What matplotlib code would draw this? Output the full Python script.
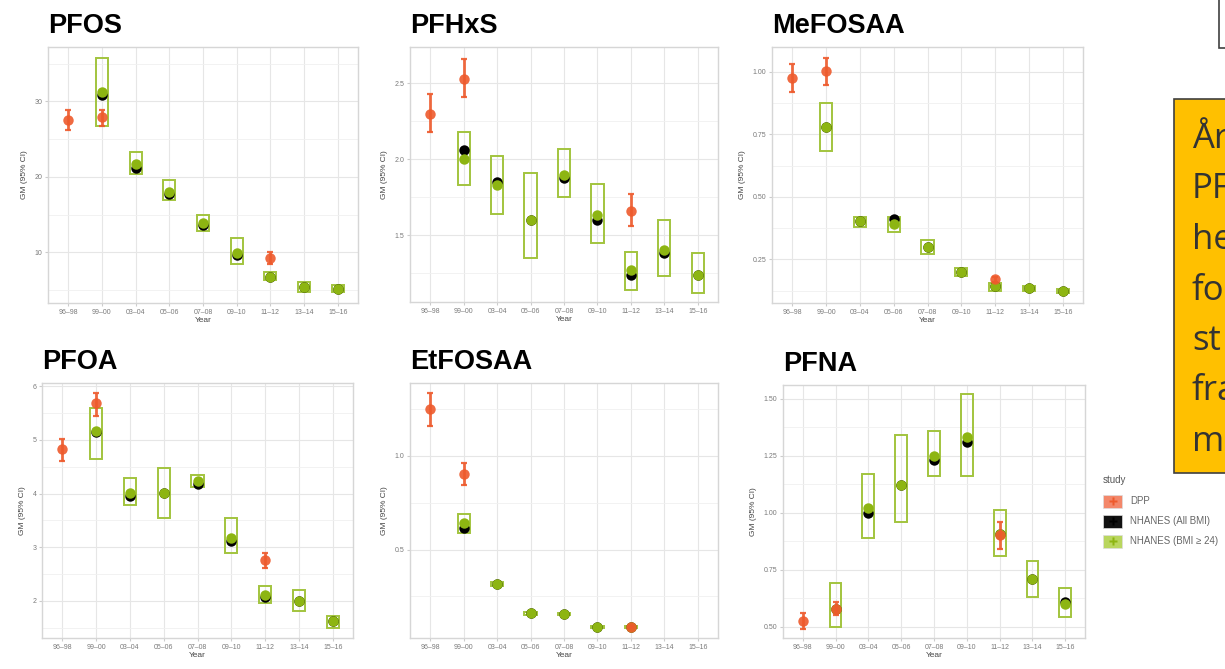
import numpy as np
import matplotlib.pyplot as plt
from matplotlib.ticker import AutoMinorLocator
from matplotlib.patches import Rectangle

plt.rcParams['font.family'] = ['Liberation Sans', 'DejaVu Sans']

nan = np.nan
years = ['96–98', '99–00', '03–04', '05–06', '07–08', '09–10', '11–12', '13–14', '15–16']

# PFOS
pfos_dpp = [27.5, 27.9, nan, nan, nan, nan, 9.3, nan, nan]
pfos_dpp_lo = [26.2, 26.7, nan, nan, nan, nan, 8.5, nan, nan]
pfos_dpp_hi = [28.8, 28.8, nan, nan, nan, nan, 10.0, nan, nan]
pfos_all = [nan, 30.9, 21.2, 17.8, 13.6, 9.7, 6.7, 5.4, 5.1]
pfos_bmi = [nan, 31.2, 21.7, 18.0, 13.9, 9.9, 6.8, 5.4, 5.1]
pfos_bmi_lo = [nan, 26.8, 20.4, 16.9, 12.9, 8.5, 6.3, 4.7, 4.7]
pfos_bmi_hi = [nan, 35.7, 23.3, 19.6, 14.9, 11.9, 7.4, 6.1, 5.7]

# PFHxS
pfhxs_dpp = [2.30, 2.53, nan, nan, nan, nan, 1.66, nan, nan]
pfhxs_dpp_lo = [2.18, 2.41, nan, nan, nan, nan, 1.56, nan, nan]
pfhxs_dpp_hi = [2.43, 2.66, nan, nan, nan, nan, 1.77, nan, nan]
pfhxs_all = [nan, 2.06, 1.85, 1.60, 1.88, 1.60, 1.24, 1.38, 1.24]
pfhxs_bmi = [nan, 2.00, 1.83, 1.60, 1.90, 1.63, 1.27, 1.40, 1.24]
pfhxs_bmi_lo = [nan, 1.83, 1.64, 1.35, 1.75, 1.45, 1.14, 1.23, 1.12]
pfhxs_bmi_hi = [nan, 2.18, 2.02, 1.91, 2.07, 1.84, 1.39, 1.60, 1.38]

# MeFOSAA
mefosaa_dpp = [0.976, 1.003, nan, nan, nan, nan, 0.17, nan, nan]
mefosaa_dpp_lo = [0.92, 0.947, nan, nan, nan, nan, 0.16, nan, nan]
mefosaa_dpp_hi = [1.033, 1.057, nan, nan, nan, nan, 0.18, nan, nan]
mefosaa_all = [nan, 0.778, 0.405, 0.41, 0.30, 0.20, 0.144, 0.135, 0.124]
mefosaa_bmi = [nan, 0.778, 0.405, 0.39, 0.30, 0.20, 0.144, 0.135, 0.124]
mefosaa_bmi_lo = [nan, 0.683, 0.38, 0.36, 0.27, 0.185, 0.125, 0.125, 0.115]
mefosaa_bmi_hi = [nan, 0.876, 0.42, 0.42, 0.327, 0.215, 0.157, 0.145, 0.132]

# PFOA
pfoa_dpp = [4.83, 5.69, nan, nan, nan, nan, 2.77, nan, nan]
pfoa_dpp_lo = [4.61, 5.44, nan, nan, nan, nan, 2.62, nan, nan]
pfoa_dpp_hi = [5.02, 5.88, nan, nan, nan, nan, 2.90, nan, nan]
pfoa_all = [nan, 5.14, 3.96, 4.02, 4.17, 3.12, 2.08, 1.99, 1.62]
pfoa_bmi = [nan, 5.17, 4.02, 4.02, 4.23, 3.18, 2.12, 2.00, 1.62]
pfoa_bmi_lo = [nan, 4.65, 3.78, 3.54, 4.12, 2.90, 1.97, 1.82, 1.50]
pfoa_bmi_hi = [nan, 5.60, 4.29, 4.47, 4.34, 3.54, 2.27, 2.21, 1.72]

# EtFOSAA
etfosaa_dpp = [1.25, 0.905, nan, nan, nan, nan, 0.086, nan, nan]
etfosaa_dpp_lo = [1.16, 0.845, nan, nan, nan, nan, 0.08, nan, nan]
etfosaa_dpp_hi = [1.336, 0.964, nan, nan, nan, nan, 0.092, nan, nan]
etfosaa_all = [nan, 0.616, 0.316, 0.16, 0.155, 0.084, 0.086, nan, nan]
etfosaa_bmi = [nan, 0.64, 0.316, 0.16, 0.155, 0.084, 0.086, nan, nan]
etfosaa_bmi_lo = [nan, 0.59, 0.305, 0.152, 0.148, 0.078, 0.08, nan, nan]
etfosaa_bmi_hi = [nan, 0.69, 0.327, 0.168, 0.162, 0.09, 0.092, nan, nan]

# PFNA
pfna_dpp = [0.525, 0.576, nan, nan, nan, nan, 0.90, nan, nan]
pfna_dpp_lo = [0.49, 0.55, nan, nan, nan, nan, 0.84, nan, nan]
pfna_dpp_hi = [0.56, 0.61, nan, nan, nan, nan, 0.96, nan, nan]
pfna_all = [nan, 0.576, 1.00, 1.12, 1.23, 1.31, 0.905, 0.71, 0.61]
pfna_bmi = [nan, 0.576, 1.02, 1.12, 1.25, 1.33, 0.905, 0.71, 0.60]
pfna_bmi_lo = [nan, 0.50, 0.89, 0.96, 1.16, 1.16, 0.81, 0.63, 0.54]
pfna_bmi_hi = [nan, 0.69, 1.17, 1.34, 1.36, 1.52, 1.01, 0.79, 0.67]

legend_labels = ['DPP', 'NHANES (All BMI)', 'NHANES (BMI ≥ 24)']

RED = '#EE5A2C'
GREEN = '#8DB512'
BOX = '#A2C43E'

W, H = 1225, 669
fig = plt.figure(figsize=(W / 100, H / 100), dpi=100)


def px_axes(l, t, r, b):
    return fig.add_axes([l / W, 1 - b / H, (r - l) / W, (b - t) / H])


def panel(box, name, dpp, dlo, dhi, allb, bmi, blo, bhi, ticks, tlabels, ylim):
    ax = px_axes(*box)
    x = np.arange(len(years))
    dpp, dlo, dhi = map(np.array, (dpp, dlo, dhi))
    bmi, blo, bhi = map(np.array, (bmi, blo, bhi))
    ax.bar(x, bhi - blo, bottom=blo, width=0.36, fill=False,
           edgecolor=BOX, linewidth=1.4, zorder=3)
    ax.plot(x, allb, 'o', color='black', ms=7.5, mec='none', zorder=4)
    ax.plot(x, bmi, 'o', color=GREEN, ms=7.5, mec='none', zorder=5)
    ax.errorbar(x, dpp, yerr=[dpp - dlo, dhi - dpp], fmt='o', color=RED,
                ms=7.5, mec='none', elinewidth=2.0, capsize=2.5, capthick=1.6,
                alpha=0.9, zorder=6)
    ax.set_xlim(-0.6, len(years) - 0.4)
    ax.set_ylim(*ylim)
    ax.set_xticks(x)
    ax.set_xticklabels(years)
    ax.set_yticks(ticks)
    ax.set_yticklabels(tlabels)
    ax.yaxis.set_minor_locator(AutoMinorLocator(2))
    ax.grid(True, which='major', color='#E6E6E6', lw=0.8)
    ax.grid(True, which='minor', axis='y', color='#F0F0F0', lw=0.6)
    ax.set_axisbelow(True)
    for s in ax.spines.values():
        s.set_color('#D6D6D6')
        s.set_linewidth(1.0)
    ax.tick_params(which='both', labelsize=5, labelcolor='#7A7A7A',
                   color='#CCCCCC', length=2, pad=2)
    ax.tick_params(which='minor', length=0)
    ax.set_xlabel('Year', fontsize=6, color='#444444', labelpad=1)
    ax.set_ylabel('GM (95% CI)', fontsize=6, color='#444444', labelpad=5)
    ax.set_title(name, loc='left', fontsize=19.5, fontweight='bold', pad=10)
    return ax


panel((48, 47, 358, 303), 'PFOS', pfos_dpp, pfos_dpp_lo, pfos_dpp_hi,
      pfos_all, pfos_bmi, pfos_bmi_lo, pfos_bmi_hi,
      [10, 20, 30], ['10', '20', '30'], (3.3, 37.2))
panel((410, 47, 718, 302), 'PFHxS', pfhxs_dpp, pfhxs_dpp_lo, pfhxs_dpp_hi,
      pfhxs_all, pfhxs_bmi, pfhxs_bmi_lo, pfhxs_bmi_hi,
      [1.5, 2.0, 2.5], ['1.5', '2.0', '2.5'], (1.06, 2.74))
panel((772, 47, 1083, 303), 'MeFOSAA', mefosaa_dpp, mefosaa_dpp_lo, mefosaa_dpp_hi,
      mefosaa_all, mefosaa_bmi, mefosaa_bmi_lo, mefosaa_bmi_hi,
      [0.25, 0.5, 0.75, 1.0], ['0.25', '0.50', '0.75', '1.00'], (0.075, 1.10))
panel((42, 383, 353, 638), 'PFOA', pfoa_dpp, pfoa_dpp_lo, pfoa_dpp_hi,
      pfoa_all, pfoa_bmi, pfoa_bmi_lo, pfoa_bmi_hi,
      [2, 3, 4, 5, 6], ['2', '3', '4', '5', '6'], (1.31, 6.06))
panel((410, 383, 718, 638), 'EtFOSAA', etfosaa_dpp, etfosaa_dpp_lo, etfosaa_dpp_hi,
      etfosaa_all, etfosaa_bmi, etfosaa_bmi_lo, etfosaa_bmi_hi,
      [0.5, 1.0], ['0.5', '1.0'], (0.027, 1.39))
panel((783, 385, 1085, 638), 'PFNA', pfna_dpp, pfna_dpp_lo, pfna_dpp_hi,
      pfna_all, pfna_bmi, pfna_bmi_lo, pfna_bmi_hi,
      [0.5, 0.75, 1.0, 1.25, 1.5], ['0.50', '0.75', '1.00', '1.25', '1.50'], (0.45, 1.56))

# overlay in pixel coordinates: legend, slide boxes
ov = fig.add_axes([0, 0, 1, 1])
ov.set_xlim(0, W)
ov.set_ylim(H, 0)
ov.axis('off')

ov.text(1103, 480, 'study', fontsize=7, color='#555555', va='center')
key_face = ['#F3876A', '#111111', '#B9D65E']
key_mark = [RED, '#000000', GREEN]
for i, lab in enumerate(legend_labels):
    yc = 501 + 20 * i
    ov.add_patch(Rectangle((1103, yc - 6.5), 19, 13, facecolor=key_face[i],
                           edgecolor='#DDDDDD', lw=0.5))
    ov.plot(1112.5, yc, marker='P', ms=5.5, color=key_mark[i], mec='none')
    ov.text(1130, yc, lab, fontsize=7, color='#666666', va='center')

ov.add_patch(Rectangle((1219, -5), 20, 53, facecolor='white',
                       edgecolor='#404040', lw=1.2))
ov.add_patch(Rectangle((1174, 99), 70, 374, facecolor='#FFC000',
                       edgecolor='#404040', lw=1.2))
box_lines = ['År', 'PF', 'he', 'fo', 'st', 'fra', 'm']
for i, s in enumerate(box_lines):
    ov.text(1192, 148 + 50.5 * i, s, fontsize=25, color='#333333',
            family=['Open Sans', 'DejaVu Sans'], va='baseline')

fig.savefig('out.png', dpi=100)
